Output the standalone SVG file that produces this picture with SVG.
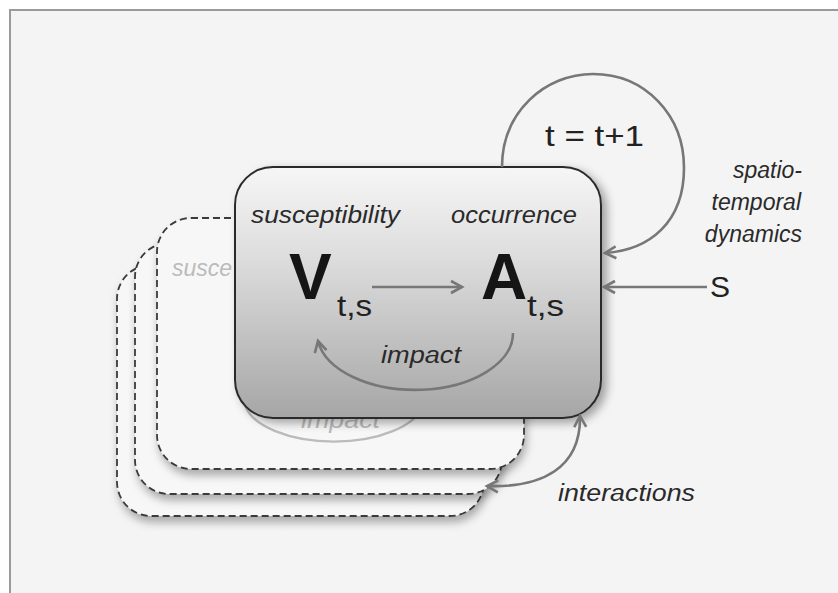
<svg xmlns="http://www.w3.org/2000/svg" width="838" height="593" viewBox="0 0 838 593">
<defs>
  <linearGradient id="gMain" x1="0" y1="0" x2="0" y2="1">
    <stop offset="0" stop-color="#f6f6f6"/>
    <stop offset="0.35" stop-color="#dedede"/>
    <stop offset="1" stop-color="#a6a6a6"/>
  </linearGradient>
  <filter id="shMain" x="-10%" y="-10%" width="125%" height="125%">
    <feDropShadow dx="5" dy="4" stdDeviation="5" flood-color="#000" flood-opacity="0.35"/>
  </filter>
  <filter id="shDash" x="-10%" y="-10%" width="125%" height="125%">
    <feDropShadow dx="2" dy="6" stdDeviation="4" flood-color="#000" flood-opacity="0.3"/>
  </filter>
  <marker id="arr" markerUnits="userSpaceOnUse" markerWidth="16" markerHeight="16" viewBox="0 0 16 16" refX="13" refY="8" orient="auto-start-reverse">
    <path d="M2,2 L13,8 L2,14" fill="none" stroke="#777" stroke-width="2.6" stroke-linejoin="miter"/>
  </marker>
  <style>
    .lbl { font-family: "Liberation Sans", Arial, sans-serif; font-style: italic; font-size: 23px; fill: #2a2a2a; }
    .big { font-family: "Liberation Sans", Arial, sans-serif; font-weight: bold; font-size: 64px; fill: #151515; }
    .sub { font-family: "Liberation Sans", Arial, sans-serif; font-size: 30px; fill: #222; }
    .plain { font-family: "Liberation Sans", Arial, sans-serif; font-size: 30px; fill: #222; }
    .dash { fill: #f7f7f7; stroke: #3a3a3a; stroke-width: 1.8; stroke-dasharray: 7 4; }
    .conn { fill: none; stroke: #777; stroke-width: 2.6; }
    .faded { fill: #bbbbbb; }
  </style>
</defs>

<rect x="0" y="0" width="838" height="593" fill="#ffffff"/>
<rect x="10" y="10" width="840" height="590" fill="#f4f4f4" stroke="#9a9a9a" stroke-width="2"/>

<g id="layer3">
  <rect class="dash" x="117" y="265" width="367" height="251" rx="34" filter="url(#shDash)"/>
</g>
<g id="layer2">
  <rect class="dash" x="135" y="243" width="367" height="251" rx="34" filter="url(#shDash)"/>
</g>
<g id="layer1">
  <rect class="dash" x="157" y="218" width="367" height="251" rx="34" filter="url(#shDash)"/>
  <text class="lbl faded" x="172" y="276">susce</text>
  <path d="M423,405 A90,43 0 0 1 245,405" fill="none" stroke="#bbb" stroke-width="2.4"/>
  <text class="lbl faded" x="301" y="428" textLength="79" lengthAdjust="spacingAndGlyphs">impact</text>
</g>

<g id="main">
  <rect x="235" y="167" width="366" height="251" rx="38" fill="url(#gMain)" stroke="#2c2c2c" stroke-width="2" filter="url(#shMain)"/>
  <text class="lbl" x="251" y="223" textLength="149" lengthAdjust="spacingAndGlyphs">susceptibility</text>
  <text class="lbl" x="451" y="223" textLength="126" lengthAdjust="spacingAndGlyphs">occurrence</text>
  <text class="big" x="289" y="299">V</text>
  <text class="sub" x="337" y="316" textLength="35" lengthAdjust="spacingAndGlyphs">t,s</text>
  <text class="big" x="481" y="299">A</text>
  <text class="sub" x="527" y="316" textLength="37" lengthAdjust="spacingAndGlyphs">t,s</text>
  <text class="lbl" x="381" y="363" textLength="80" lengthAdjust="spacingAndGlyphs">impact</text>
</g>

<g id="labels">
  <text class="plain" x="545" y="146" textLength="99" lengthAdjust="spacingAndGlyphs">t = t+1</text>
  <text class="lbl" x="802" y="178" text-anchor="end">spatio-</text>
  <text class="lbl" x="801" y="210" text-anchor="end">temporal</text>
  <text class="lbl" x="802" y="242" text-anchor="end">dynamics</text>
  <text class="plain" x="710" y="297">S</text>
  <text class="lbl" x="558" y="501" textLength="137" lengthAdjust="spacingAndGlyphs">interactions</text>
</g>

<g id="connectors">
  <path class="conn" d="M372,287 L462,287" marker-end="url(#arr)"/>
  <path class="conn" d="M513,333 A98,57 0 0 1 318,341" marker-end="url(#arr)"/>
  <path class="conn" d="M502,167 C502,112 545,74 593,74 C645,74 684,115 684,168 C684,222 650,250 605,253" marker-end="url(#arr)"/>
  <path class="conn" d="M707,287 L604,287" marker-end="url(#arr)"/>
  <path class="conn" d="M487,486 C542,488 581,468 580,416" marker-start="url(#arr)" marker-end="url(#arr)"/>
</g>
</svg>
